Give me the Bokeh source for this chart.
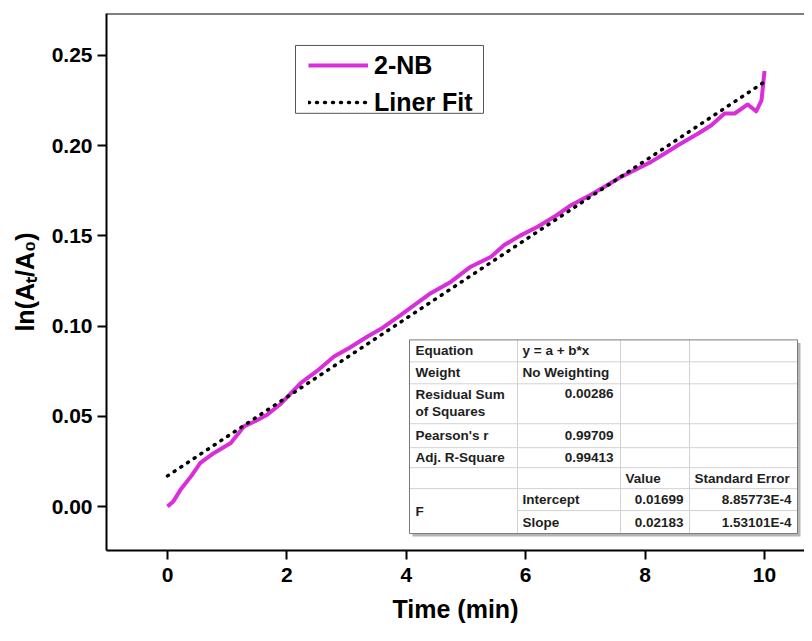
from bokeh.plotting import figure
from bokeh.models import (Range1d, Span, Legend, LegendItem, FixedTicker,
                          PrintfTickFormatter)
from bokeh.core.properties import value
from bokeh.embed import file_html
from bokeh.resources import INLINE

# ---------------- data ----------------
time_min = [0.00, 0.10, 0.22, 0.40, 0.55, 0.78, 1.06, 1.28, 1.45, 1.67, 1.90,
            2.23, 2.50, 2.79, 3.05, 3.35, 3.60, 3.91, 4.15, 4.41, 4.75, 5.08,
            5.42, 5.64, 5.90, 6.20, 6.50, 6.76, 7.05, 7.32, 7.60, 7.88, 8.10,
            8.33, 8.55, 8.89, 9.11, 9.33, 9.50, 9.72, 9.86, 9.95, 10.00]
ln_ratio = [0.0000, 0.0030, 0.0094, 0.0170, 0.0242, 0.0297, 0.0352, 0.0444,
            0.0470, 0.0509, 0.0570, 0.0684, 0.0750, 0.0832, 0.0880, 0.0942,
            0.0990, 0.1062, 0.1120, 0.1182, 0.1246, 0.1329, 0.1384, 0.1449,
            0.1500, 0.1550, 0.1610, 0.1670, 0.1720, 0.1772, 0.1827, 0.1873,
            0.1910, 0.1956, 0.2002, 0.2067, 0.2113, 0.2178, 0.2178, 0.2228,
            0.2190, 0.2251, 0.2413]
fit_intercept = 0.01699
fit_slope = 0.02183
fit_x = [0.0, 10.0]
x_ticks = [0, 2, 4, 6, 8, 10]
y_ticks = [0.00, 0.05, 0.10, 0.15, 0.20, 0.25]
series_names = ["2-NB", "Liner Fit"]
x_title = "Time (min)"
y_title = "ln(A\u209c/A\u2080)"

table_col1 = ["Equation", "Weight", "Residual Sum", "of Squares", "Pearson's r",
              "Adj. R-Square", "F"]
table_col2 = ["y = a + b*x", "No Weighting", "Intercept", "Slope"]
table_col2_values = ["0.00286", "0.99709", "0.99413"]
table_headers = ["Value", "Standard Error"]
table_values = ["0.01699", "0.02183"]
table_errors = ["8.85773E-4", "1.53101E-4"]

# ---------------- layout ----------------
W, H = 804, 625
FL, FR, FT, FB = 106, 804, 13, 551   # frame edges in canvas px
X0, X1 = -1.0218, 10.670
Y0, Y1 = -0.02434, 0.2732
FONT = "Liberation Sans"

def px2x(px):  # canvas px -> data
    return X0 + (px - FL) / (FR - FL) * (X1 - X0)

def px2y(py):
    return Y1 - (py - FT) / (FB - FT) * (Y1 - Y0)

p = figure(width=W, height=H, output_backend="svg", toolbar_location=None,
           x_range=Range1d(X0, X1), y_range=Range1d(Y0, Y1),
           min_border_left=FL, min_border_right=W - FR, min_border_top=FT,
           min_border_bottom=H - FB, background_fill_color="white",
           border_fill_color="white")
p.outline_line_color = None
p.xgrid.grid_line_color = None
p.ygrid.grid_line_color = None

for ax in (p.xaxis[0], p.yaxis[0]):
    ax.axis_line_width = 2
    ax.axis_line_color = "black"
    ax.major_tick_line_width = 2
    ax.major_tick_line_color = "black"
    ax.major_tick_out = 9
    ax.major_tick_in = 0
    ax.minor_tick_line_color = None
    ax.major_label_text_font = FONT
    ax.major_label_text_font_style = "bold"
    ax.major_label_text_font_size = "21px"
    ax.major_label_text_color = "black"
    ax.axis_label_text_font = FONT
    ax.axis_label_text_font_style = "bold"
    ax.axis_label_text_font_size = "25px"
    ax.axis_label_text_color = "black"
p.xaxis.ticker = FixedTicker(ticks=x_ticks)
p.yaxis.ticker = FixedTicker(ticks=y_ticks)
p.yaxis.formatter = PrintfTickFormatter(format="%.2f")
p.xaxis.major_label_standoff = 8
p.yaxis.major_label_standoff = 5
p.xaxis.axis_label = x_title
p.xaxis.axis_label_standoff = 10
p.yaxis.axis_label = y_title
p.yaxis.axis_label_standoff = 10

p.add_layout(Span(location=Y1, dimension="width", line_color="black", line_width=2))

# ---------------- series ----------------
curve = p.line(time_min, ln_ratio, line_color="#D92ED9", line_width=4, line_join="round")
fit_y = [fit_intercept + fit_slope * x for x in fit_x]
fit = p.line(fit_x, fit_y, line_color="black", line_width=3.5, line_dash="1 7",
             line_cap="round")

# legend box
p.quad(left=[px2x(295)], right=[px2x(483)], top=[px2y(45)], bottom=[px2y(113)],
       fill_color="white", line_color="#555555", line_width=1)
legend = Legend(items=[LegendItem(label=series_names[0], renderers=[curve]),
                       LegendItem(label=series_names[1], renderers=[fit])],
                location=(202, 433), orientation="vertical")
legend.glyph_width = 60
legend.glyph_height = 30
legend.label_height = 30
legend.spacing = 7
legend.padding = 3
legend.margin = 0
legend.label_standoff = 6
legend.label_text_font = FONT
legend.label_text_font_style = "bold"
legend.label_text_font_size = "25px"
legend.label_text_color = "black"
legend.border_line_color = None
legend.background_fill_alpha = 0
p.add_layout(legend)

# ---------------- fit results table ----------------
cols = [409, 517, 620, 689, 797]
rows = [340, 362, 384, 424, 448, 468, 489, 511, 534]
p.quad(left=[px2x(cols[0] + 3)], right=[px2x(cols[-1] + 3)], top=[px2y(rows[0] + 3)],
       bottom=[px2y(rows[-1] + 3)], fill_color="#b5b5b5", line_color=None)
p.quad(left=[px2x(cols[0])], right=[px2x(cols[-1])], top=[px2y(rows[0])],
       bottom=[px2y(rows[-1])], fill_color="white", line_color=None)
sx0, sy0, sx1, sy1 = [], [], [], []
for r in rows[1:-2]:
    sx0.append(px2x(cols[0])); sx1.append(px2x(cols[-1])); sy0.append(px2y(r)); sy1.append(px2y(r))
sx0.append(px2x(cols[1])); sx1.append(px2x(cols[-1])); sy0.append(px2y(rows[-2])); sy1.append(px2y(rows[-2]))
for c in cols[1:-1]:
    sx0.append(px2x(c)); sx1.append(px2x(c)); sy0.append(px2y(rows[0])); sy1.append(px2y(rows[-1]))
p.segment(x0=sx0, y0=sy0, x1=sx1, y1=sy1, line_color="#d2d2d2", line_width=1)
p.quad(left=[px2x(cols[0])], right=[px2x(cols[-1])], top=[px2y(rows[0])],
       bottom=[px2y(rows[-1])], fill_color=None, line_color="#7a7a7a", line_width=1)

def cy(i):
    return (rows[i] + rows[i + 1]) / 2

lt_x, lt_y, lt_t = [], [], []
c1y = [cy(0), cy(1), 395, 412, cy(3), cy(4), (rows[6] + rows[8]) / 2]
for t, yy in zip(table_col1, c1y):
    lt_x.append(px2x(cols[0] + 6)); lt_y.append(px2y(yy)); lt_t.append(t)
for t, yy in zip(table_col2, [cy(0), cy(1), cy(6), cy(7)]):
    lt_x.append(px2x(cols[1] + 5)); lt_y.append(px2y(yy)); lt_t.append(t)
for t, c in zip(table_headers, [cols[2], cols[3]]):
    lt_x.append(px2x(c + 5)); lt_y.append(px2y(cy(5))); lt_t.append(t)

rt_x, rt_y, rt_t = [], [], []
for t, yy in zip(table_col2_values, [394, cy(3), cy(4)]):
    rt_x.append(px2x(cols[2] - 7)); rt_y.append(px2y(yy)); rt_t.append(t)
for t, yy in zip(table_values, [cy(6), cy(7)]):
    rt_x.append(px2x(cols[3] - 6)); rt_y.append(px2y(yy)); rt_t.append(t)
for t, yy in zip(table_errors, [cy(6), cy(7)]):
    rt_x.append(px2x(cols[4] - 6)); rt_y.append(px2y(yy)); rt_t.append(t)

p.text(x=lt_x, y=lt_y, text=lt_t, text_font=value(FONT), text_font_style="bold",
       text_font_size="13.5px", text_color="#1e1e1e", text_align="left",
       text_baseline="middle")
p.text(x=rt_x, y=rt_y, text=rt_t, text_font=value(FONT), text_font_style="bold",
       text_font_size="13.5px", text_color="#1e1e1e", text_align="right",
       text_baseline="middle")

open("out.html", "w").write(file_html(p, INLINE))
